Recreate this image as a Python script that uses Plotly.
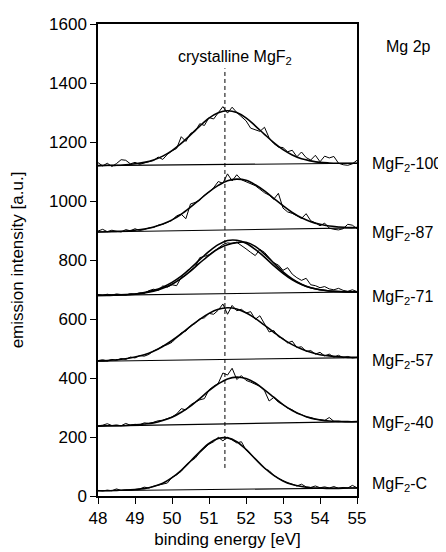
import numpy as np
import plotly.graph_objects as go

# binding energy grids [eV]
energy = np.arange(48.0, 55.0001, 0.125)
fit_energy = np.arange(48.0, 55.0001, 0.25)

samples = ["MgF<sub>2</sub>-100", "MgF<sub>2</sub>-87", "MgF<sub>2</sub>-71",
           "MgF<sub>2</sub>-57", "MgF<sub>2</sub>-40", "MgF<sub>2</sub>-C"]

raw_100 = [1130, 1119, 1128, 1117, 1127, 1140, 1138, 1126, 1131, 1124, 1129, 1133, 1137, 1149, 1141,
           1158, 1170, 1178, 1218, 1202, 1229, 1236, 1262, 1256, 1283, 1278, 1300, 1320, 1298, 1318,
           1300, 1285, 1272, 1247, 1242, 1236, 1250, 1214, 1195, 1183, 1181, 1167, 1172, 1150, 1166,
           1147, 1139, 1155, 1133, 1152, 1146, 1151, 1128, 1123, 1121, 1126, 1138]
raw_87 = [898, 904, 896, 901, 897, 895, 903, 899, 906, 900, 903, 909, 910, 918, 921,
          927, 934, 950, 955, 940, 990, 995, 1003, 1020, 1030, 1045, 1066, 1060, 1092, 1068,
          1089, 1072, 1065, 1060, 1052, 1040, 1028, 1020, 1006, 1026, 976, 963, 958, 950, 941,
          957, 933, 926, 916, 925, 908, 904, 902, 906, 921, 918, 906]
raw_71 = [683, 680, 684, 681, 685, 682, 681, 686, 684, 689, 687, 696, 701, 697, 712,
          708, 716, 713, 741, 748, 765, 776, 808, 812, 818, 828, 840, 852, 858, 856,
          860, 850, 838, 826, 815, 836, 826, 808, 790, 783, 765, 774, 752, 740, 731,
          738, 716, 713, 706, 710, 702, 699, 704, 697, 694, 699, 693]
raw_57 = [459, 462, 458, 463, 460, 466, 463, 471, 468, 476, 474, 480, 492, 498, 509,
          513, 521, 536, 553, 559, 577, 585, 601, 604, 619, 616, 630, 651, 616, 646,
          628, 633, 620, 625, 599, 611, 581, 556, 561, 540, 534, 519, 525, 503, 506,
          490, 493, 481, 487, 475, 481, 471, 477, 469, 473, 468, 470]
raw_40 = [238, 240, 245, 239, 241, 238, 246, 240, 243, 241, 248, 246, 250, 255, 257,
          262, 268, 278, 296, 292, 309, 318, 326, 330, 360, 372, 382, 417, 410, 433,
          395, 408, 392, 386, 380, 372, 357, 322, 334, 318, 310, 298, 292, 281, 276,
          268, 266, 260, 258, 256, 266, 253, 253, 252, 252, 251, 252]
raw_c = [19, 17, 20, 18, 24, 19, 21, 20, 22, 24, 30, 27, 33, 36, 41,
         44, 63, 72, 84, 104, 118, 128, 147, 160, 176, 184, 199, 187, 199, 190,
         180, 184, 156, 141, 124, 108, 93, 86, 70, 60, 52, 44, 40, 34, 40,
         31, 29, 34, 28, 31, 27, 32, 26, 29, 27, 36, 28]

# fitted peaks
fit_100 = [1120, 1121, 1121, 1123, 1126, 1131, 1139, 1152, 1171, 1195, 1224, 1254, 1281, 1299, 1306,
           1300, 1282, 1255, 1226, 1198, 1174, 1156, 1143, 1136, 1131, 1129, 1128, 1128, 1128]
fit_87 = [895, 896, 897, 898, 901, 905, 912, 922, 936, 955, 979, 1005, 1031, 1053, 1069,
          1074, 1070, 1055, 1034, 1009, 984, 961, 943, 930, 921, 915, 912, 910, 910]
fit_71a = [680, 681, 682, 683, 685, 690, 697, 708, 724, 745, 772, 801, 829, 852, 866,
           867, 857, 836, 810, 781, 755, 733, 717, 706, 699, 695, 693, 692, 692]
fit_71b = [680, 680, 681, 682, 684, 688, 694, 704, 718, 738, 762, 790, 816, 838, 852,
           859, 860, 846, 820, 790, 760, 736, 718, 706, 699, 695, 693, 692, 692]
fit_57 = [458, 459, 462, 465, 471, 479, 491, 507, 527, 550, 575, 599, 619, 633, 638,
          634, 621, 602, 579, 555, 532, 513, 498, 487, 479, 475, 472, 470, 470]
fit_40 = [237, 238, 238, 239, 241, 244, 248, 256, 267, 284, 305, 330, 357, 380, 397,
          403, 398, 383, 360, 335, 310, 290, 275, 264, 258, 254, 253, 252, 252]
fit_c = [18, 18, 19, 20, 22, 25, 32, 43, 62, 87, 118, 150, 178, 195, 197,
         184, 158, 126, 95, 70, 51, 39, 32, 28, 27, 26, 26, 27, 27]

# linear backgrounds: value at 48 eV and at 55 eV
baseline_left = [1120, 895, 680, 457, 237, 18]
baseline_right = [1128, 909, 692, 469, 252, 27]

crystal_be = 51.43
crystal_span = [95, 1450]

raws = [raw_100, raw_87, raw_71, raw_57, raw_40, raw_c]
fits = [[fit_100], [fit_87], [fit_71a, fit_71b], [fit_57], [fit_40], [fit_c]]

fig = go.Figure()
for i in range(len(samples)):
    fig.add_scatter(x=[48, 55], y=[baseline_left[i], baseline_right[i]], mode='lines',
                    line=dict(color='black', width=1.1), showlegend=False)
    fig.add_scatter(x=energy, y=raws[i], mode='lines',
                    line=dict(color='black', width=1), showlegend=False)
    for f in fits[i]:
        fig.add_scatter(x=fit_energy, y=f, mode='lines',
                        line=dict(color='black', width=1.6, shape='spline'), showlegend=False)

fig.add_scatter(x=[crystal_be, crystal_be], y=crystal_span, mode='lines',
                line=dict(color='black', width=1, dash='4px,3px'), showlegend=False)

font = dict(family='Arial, Liberation Sans, sans-serif', size=16, color='black')

label_y = [1125, 890, 673, 457, 245, 40]
for name, yy in zip(samples, label_y):
    fig.add_annotation(x=1.05, xref='paper', y=yy, yref='y', text=name, showarrow=False,
                       xanchor='left', yanchor='middle', font=font)
fig.add_annotation(x=1.197, xref='paper', y=1525, yref='y', text='Mg 2p', showarrow=False,
                   xanchor='center', yanchor='middle', font=font)
fig.add_annotation(x=51.7, y=1488, text='crystalline MgF<sub>2</sub>', showarrow=False,
                   xanchor='center', yanchor='middle', font=font)

axis = dict(showline=True, mirror=True, linecolor='black', linewidth=1.5, ticks='outside',
            ticklen=6, tickwidth=1.2, tickcolor='black', showgrid=False, zeroline=False,
            automargin=False,
            tickfont=dict(family='Arial, Liberation Sans, sans-serif', size=17, color='black'))

# page body adds an 8px offset, so the figure is 8px smaller than the window
fig.update_layout(
    width=438, height=544,
    margin=dict(l=90, r=89, t=16, b=56),
    paper_bgcolor='white', plot_bgcolor='white',
    font=font,
    xaxis=dict(axis, range=[48, 55], dtick=1,
               title=dict(text='binding energy [eV]', font=dict(size=17), standoff=6)),
    yaxis=dict(axis, range=[0, 1600], dtick=200,
               title=dict(text='emission intensity [a.u.]', font=dict(size=17), standoff=21)),
)

fig.write_html("out.html")
